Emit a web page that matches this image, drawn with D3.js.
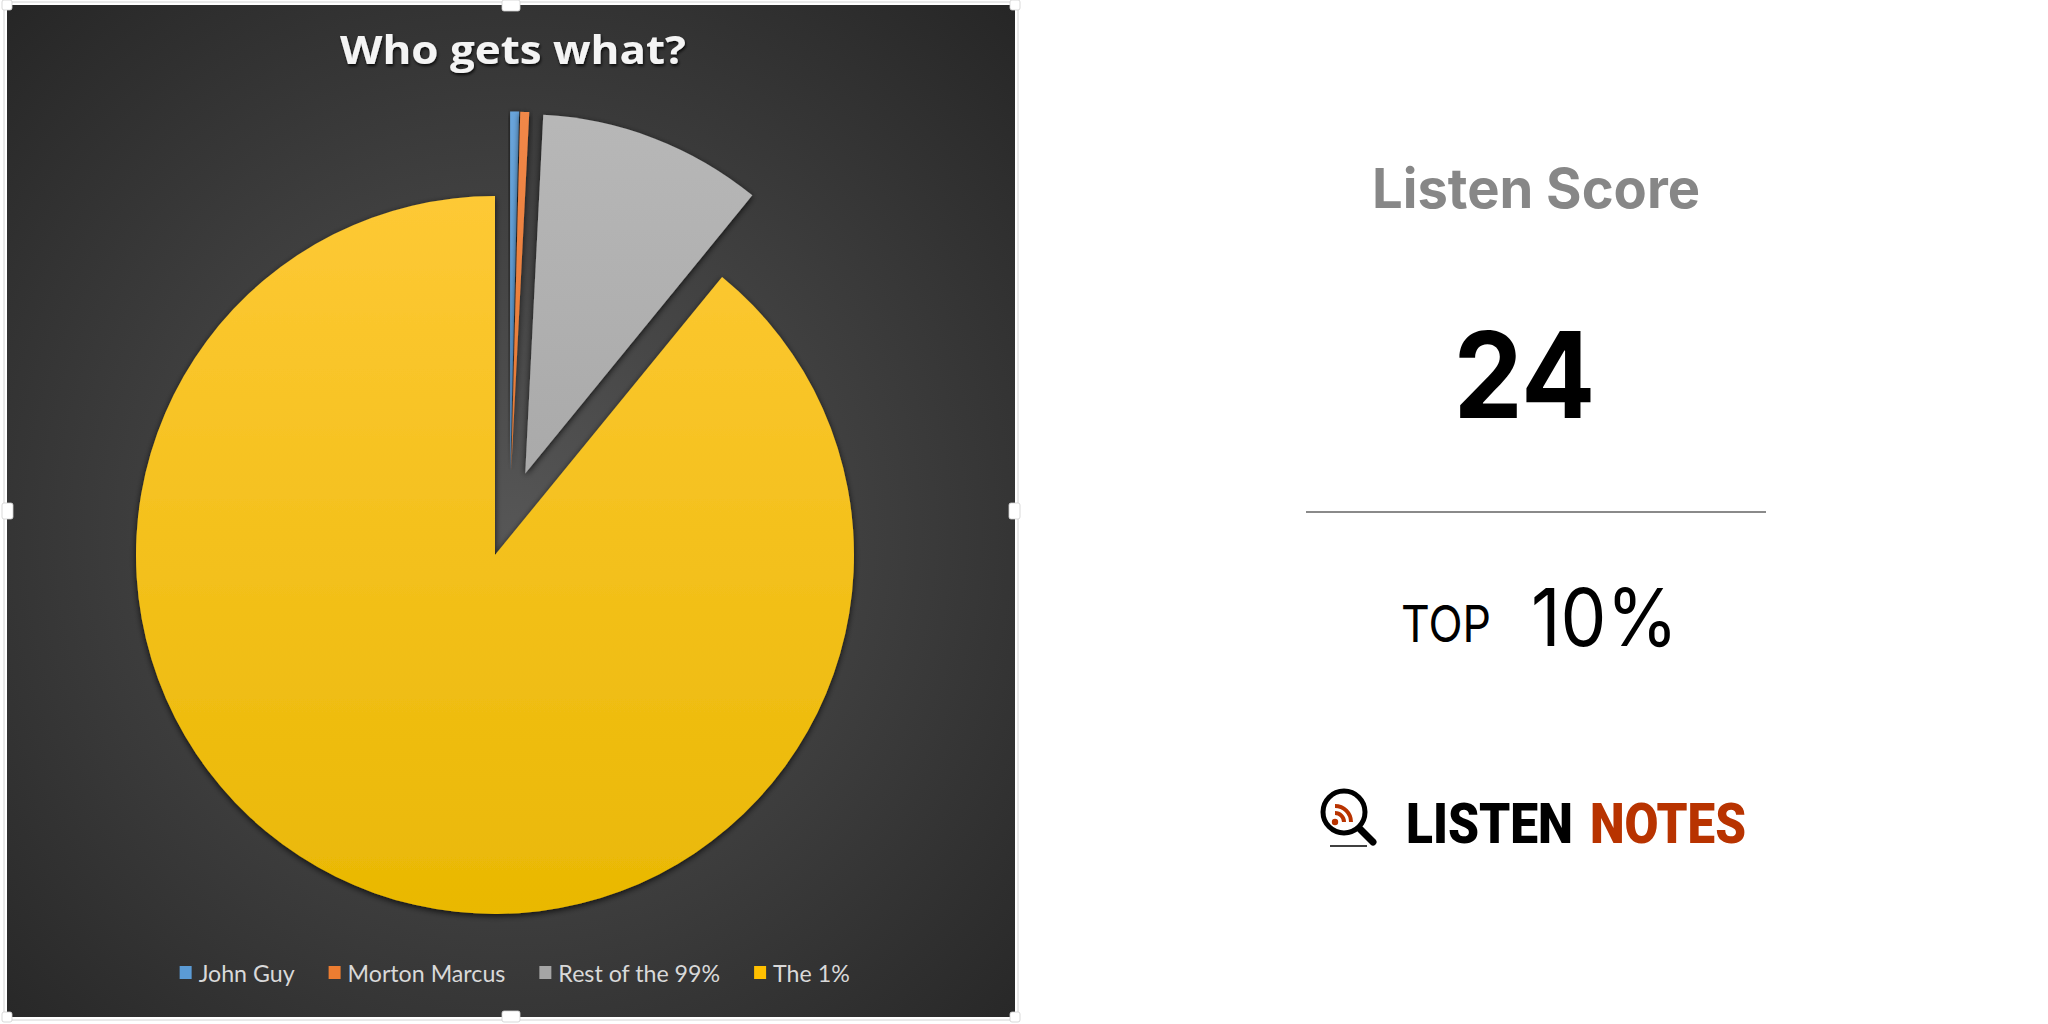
<!DOCTYPE html>
<html>
<head>
<meta charset="utf-8">
<script src="https://cdn.jsdelivr.net/npm/d3@7"></script>
<style>
  html, body { margin: 0; padding: 0; background: #ffffff; }
  svg { display: block; }
</style>
</head>
<body>
<svg id="chart" width="2048" height="1024"></svg>
<script>
// ---- data ----
const categories = ["John Guy", "Morton Marcus", "Rest of the 99%", "The 1%"];
const shares = [0.4, 0.4, 10.1, 89.1];
const sliceColors = ["#5B9BD5", "#ED7D31", "#A5A5A5", "#FFC000"];
const chartTitle = "Who gets what?";
const scoreLabel = "Listen Score";
const scoreValue = "24";
const topLabel = "TOP";
const topValue = "10%";
const brandWords = ["LISTEN", "NOTES"];

const svg = d3.select("#chart");
const defs = svg.append("defs");

// panel background gradient
const bg = defs.append("radialGradient").attr("id", "bgGrad")
  .attr("cx", "50%").attr("cy", "52%").attr("r", "72%");
bg.append("stop").attr("offset", "0%").attr("stop-color", "#565656");
bg.append("stop").attr("offset", "100%").attr("stop-color", "#262626");

const cx = 509.6, cy = 514, R = 359, explode = 43.5;
const gradStops = [
  ["#6aa6dc", "#4a89c2"],
  ["#f2894a", "#d96a20"],
  ["#b9b9b9", "#9a9a9a"],
  ["#ffca38", "#e8b700"]
];
gradStops.forEach((s, i) => {
  const g = defs.append("linearGradient").attr("id", "sg" + i)
    .attr("gradientUnits", "userSpaceOnUse")
    .attr("x1", 0).attr("y1", -R - explode).attr("x2", 0).attr("y2", R + explode);
  g.append("stop").attr("offset", "0%").attr("stop-color", s[0]);
  g.append("stop").attr("offset", "100%").attr("stop-color", s[1]);
});

const sh = defs.append("filter").attr("id", "shadow")
  .attr("x", "-20%").attr("y", "-20%").attr("width", "140%").attr("height", "140%");
sh.append("feDropShadow").attr("dx", 0).attr("dy", 2).attr("stdDeviation", 3)
  .attr("flood-color", "#000").attr("flood-opacity", 0.75);

const tsh = defs.append("filter").attr("id", "tshadow")
  .attr("x", "-10%").attr("y", "-30%").attr("width", "120%").attr("height", "160%");
tsh.append("feDropShadow").attr("dx", 1).attr("dy", 2).attr("stdDeviation", 1.5)
  .attr("flood-color", "#000").attr("flood-opacity", 0.8);

// panel
const px0 = 7, py0 = 5, px1 = 1015, py1 = 1017;
svg.append("rect").attr("x", px0 - 3).attr("y", py0 - 3)
  .attr("width", px1 - px0 + 6).attr("height", py1 - py0 + 6)
  .attr("fill", "none").attr("stroke", "#d4d4d4").attr("stroke-width", 1);
svg.append("rect").attr("x", px0).attr("y", py0)
  .attr("width", px1 - px0).attr("height", py1 - py0)
  .attr("fill", "url(#bgGrad)");

// selection handles
const midX = (px0 + px1) / 2, midY = (py0 + py1) / 2;
const handles = [
  [midX - 9, py0 - 5, 18, 11], [midX - 9, py1 - 6, 18, 11],
  [px0 - 5, midY - 8, 11, 16], [px1 - 6, midY - 8, 11, 16],
  [px0 - 5, py0 - 5, 10, 10], [px1 - 5, py0 - 5, 10, 10],
  [px0 - 5, py1 - 5, 10, 10], [px1 - 5, py1 - 5, 10, 10]
];
svg.append("g").selectAll("rect").data(handles).join("rect")
  .attr("x", d => d[0]).attr("y", d => d[1]).attr("width", d => d[2]).attr("height", d => d[3])
  .attr("rx", 2).attr("fill", "#ffffff").attr("stroke", "#cfcfcf").attr("stroke-width", 0.8);

// title
svg.append("text").attr("x", 513).attr("y", 64)
  .attr("text-anchor", "middle")
  .attr("font-family", "'Open Sans', sans-serif").attr("font-weight", 700)
  .attr("font-size", 40).attr("fill", "#f4f4f4")
  .attr("textLength", 346).attr("lengthAdjust", "spacingAndGlyphs")
  .attr("filter", "url(#tshadow)")
  .text(chartTitle);

// pie
const pie = d3.pie().sort(null).value(d => d)(shares);
const arc = d3.arc().innerRadius(0).outerRadius(R);
const pg = svg.append("g").attr("transform", `translate(${cx},${cy})`);
pg.selectAll("path").data(pie).join("path")
  .attr("transform", d => {
    const m = (d.startAngle + d.endAngle) / 2;
    return `translate(${Math.sin(m) * explode},${-Math.cos(m) * explode})`;
  })
  .attr("d", arc)
  .attr("fill", (d, i) => `url(#sg${i})`)
  .attr("filter", "url(#shadow)");

// legend
const lg = svg.append("g");
const legendY = 973, sq = 12, gapText = 19, gapItem = 34;
const items = lg.selectAll("g").data(categories).join("g");
items.append("rect").attr("width", sq).attr("height", sq + 1).attr("y", legendY - sq / 2 - 1)
  .attr("fill", (d, i) => sliceColors[i]);
items.append("text").attr("x", gapText).attr("y", legendY + 9)
  .attr("font-family", "Lato, 'Open Sans', sans-serif").attr("font-size", 23.2)
  .attr("fill", "#d9d9d9").text(d => d);
let widths = [];
items.selectAll("text").each(function () { widths.push(this.getComputedTextLength()); });
const total = d3.sum(widths) + categories.length * gapText + (categories.length - 1) * gapItem;
let xpos = 514.7 - total / 2;
items.attr("transform", (d, i) => {
  const t = `translate(${xpos},0)`;
  xpos += gapText + widths[i] + gapItem;
  return t;
});

// right panel
svg.append("text").attr("x", 1536).attr("y", 208)
  .attr("text-anchor", "middle").attr("font-family", "Inter, Roboto, sans-serif")
  .attr("font-weight", 700).attr("font-size", 55).attr("fill", "#878787")
  .attr("textLength", 328).attr("lengthAdjust", "spacingAndGlyphs")
  .text(scoreLabel);
svg.append("text").attr("x", 1524.5).attr("y", 418)
  .attr("text-anchor", "middle").attr("font-family", "Inter, Roboto, sans-serif")
  .attr("font-weight", 700).attr("font-size", 119).attr("fill", "#000")
  .attr("textLength", 142).attr("lengthAdjust", "spacingAndGlyphs")
  .text(scoreValue);
svg.append("line").attr("x1", 1306).attr("x2", 1766).attr("y1", 512).attr("y2", 512)
  .attr("stroke", "#8a8a8a").attr("stroke-width", 2);
svg.append("text").attr("x", 1401).attr("y", 642)
  .attr("font-family", "Inter, Roboto, sans-serif")
  .attr("font-weight", 400).attr("font-size", 51).attr("fill", "#000")
  .attr("textLength", 90).attr("lengthAdjust", "spacingAndGlyphs")
  .text(topLabel);
svg.append("text").attr("x", 1531).attr("y", 646)
  .attr("font-family", "Inter, Roboto, sans-serif")
  .attr("font-weight", 400).attr("font-size", 80).attr("fill", "#000")
  .attr("textLength", 147).attr("lengthAdjust", "spacingAndGlyphs")
  .text(topValue);

// logo
const logo = svg.append("g");
logo.append("circle").attr("cx", 1344).attr("cy", 812).attr("r", 21)
  .attr("fill", "none").attr("stroke", "#000").attr("stroke-width", 5);
logo.append("line").attr("x1", 1360).attr("y1", 829).attr("x2", 1373).attr("y2", 842)
  .attr("stroke", "#000").attr("stroke-width", 7).attr("stroke-linecap", "round");
logo.append("line").attr("x1", 1330).attr("y1", 846).attr("x2", 1367).attr("y2", 846)
  .attr("stroke", "#000").attr("stroke-width", 1.5);
logo.append("circle").attr("cx", 1335).attr("cy", 822).attr("r", 3.2).attr("fill", "#b83300");
[9, 16].forEach(r => {
  logo.append("path")
    .attr("d", d3.arc().innerRadius(r - 2).outerRadius(r + 2).startAngle(0).endAngle(Math.PI / 2)())
    .attr("transform", "translate(1335,822)").attr("fill", "#b83300");
});
logo.append("text").attr("x", 1406).attr("y", 843)
  .attr("font-family", "Roboto, sans-serif").attr("font-weight", 900)
  .attr("font-size", 55).attr("fill", "#000")
  .attr("textLength", 167).attr("lengthAdjust", "spacingAndGlyphs")
  .text(brandWords[0]);
logo.append("text").attr("x", 1590).attr("y", 843)
  .attr("font-family", "Roboto, sans-serif").attr("font-weight", 900)
  .attr("font-size", 55).attr("fill", "#b83300")
  .attr("textLength", 156).attr("lengthAdjust", "spacingAndGlyphs")
  .text(brandWords[1]);
</script>
</body>
</html>
